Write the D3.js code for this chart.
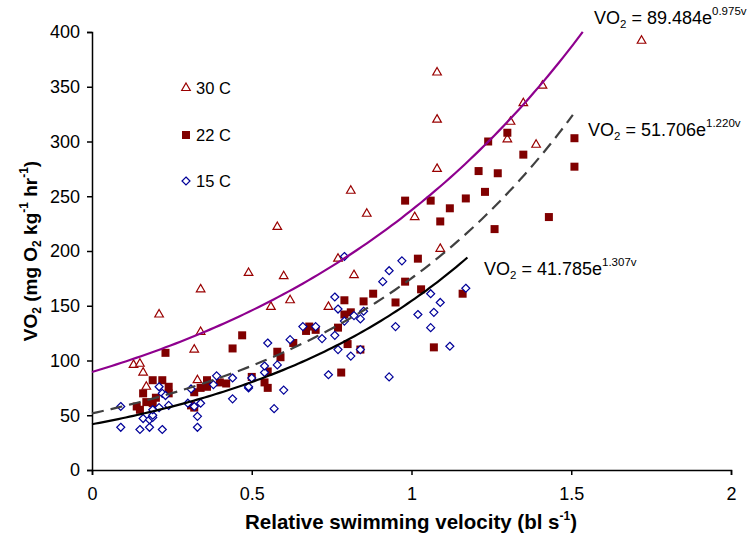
<!DOCTYPE html>
<html>
<head>
<meta charset="utf-8">
<script src="https://cdn.jsdelivr.net/npm/d3@7"></script>
<style>
  body { margin: 0; background: #fff; }
  svg text { font-family: "Liberation Sans", Arial, sans-serif; fill: #000; }
</style>
</head>
<body>
<div id="chart"></div>
<script>
// ---- data: [velocity (bl/s), VO2] ----
const temp30 = [
  [0.13, 96], [0.15, 97], [0.16, 89], [0.17, 76], [0.21, 142], [0.32, 110],
  [0.33, 82], [0.34, 126], [0.34, 165], [0.49, 180], [0.56, 149], [0.58, 222],
  [0.60, 177], [0.62, 155], [0.74, 149], [0.77, 193], [0.81, 255], [0.82, 178],
  [0.86, 234], [1.01, 231], [1.08, 275], [1.08, 320], [1.08, 363], [1.09, 202],
  [1.30, 302], [1.31, 318], [1.35, 335], [1.39, 297], [1.41, 351], [1.72, 392]
];
const temp22 = [
  [0.14, 58], [0.15, 55], [0.16, 70], [0.17, 62], [0.19, 61], [0.19, 82],
  [0.20, 66], [0.22, 82], [0.23, 107], [0.24, 76], [0.24, 70], [0.31, 59],
  [0.32, 57], [0.32, 71], [0.34, 75], [0.36, 82], [0.36, 76], [0.40, 80],
  [0.42, 79], [0.44, 111], [0.47, 123], [0.50, 85], [0.54, 80], [0.55, 90],
  [0.55, 75], [0.58, 108], [0.59, 103], [0.63, 116], [0.67, 127], [0.68, 131],
  [0.70, 128], [0.77, 130], [0.78, 89], [0.79, 142], [0.79, 155], [0.80, 115],
  [0.81, 144], [0.84, 110], [0.85, 154], [0.88, 161], [0.95, 153], [0.98, 172],
  [0.98, 246], [1.02, 193], [1.03, 165], [1.06, 246], [1.07, 112], [1.09, 227],
  [1.12, 239], [1.16, 161], [1.17, 248], [1.21, 273], [1.23, 254], [1.24, 300],
  [1.26, 220], [1.27, 271], [1.30, 308], [1.35, 288], [1.43, 231], [1.51, 303],
  [1.51, 277]
];
const temp15 = [
  [0.09, 58], [0.09, 39], [0.15, 37], [0.16, 47], [0.18, 39], [0.18, 46],
  [0.19, 48], [0.19, 50], [0.19, 55], [0.21, 57], [0.21, 76], [0.22, 37],
  [0.22, 70], [0.23, 68], [0.24, 59], [0.30, 61], [0.31, 74], [0.32, 58],
  [0.33, 49], [0.33, 39], [0.34, 61], [0.38, 78], [0.39, 86], [0.44, 84],
  [0.44, 65], [0.49, 75], [0.49, 76], [0.50, 84], [0.54, 89], [0.54, 95],
  [0.55, 116], [0.57, 56], [0.58, 96], [0.60, 73], [0.62, 119], [0.66, 131],
  [0.70, 131], [0.72, 120], [0.74, 87], [0.76, 123], [0.76, 158], [0.77, 147],
  [0.77, 110], [0.79, 136], [0.79, 195], [0.81, 104], [0.82, 141], [0.84, 138],
  [0.84, 110], [0.85, 145], [0.91, 172], [0.93, 182], [0.93, 85], [0.95, 131],
  [0.97, 191], [1.02, 142], [1.06, 161], [1.06, 130], [1.07, 144], [1.09, 153],
  [1.12, 113], [1.17, 166]
];

// exponential fits  VO2 = a * e^(b v), drawn from 0 to vMax
const fitLabels = ["30 C", "22 C", "15 C"];
const fitA = [89.484, 51.706, 41.785];
const fitB = [0.975, 1.220, 1.307];
const fitMax = [1.536, 1.505, 1.175];

const xTicks = [0, 0.5, 1, 1.5, 2];
const yTicks = [0, 50, 100, 150, 200, 250, 300, 350, 400];

// ---- layout ----
const W = 755, H = 539;
const margin = { top: 32, right: 24, bottom: 69, left: 92 };

const svg = d3.select("#chart").append("svg")
  .attr("width", W)
  .attr("height", H);

const x = d3.scaleLinear().domain([0, 2]).range([margin.left, W - margin.right]);
const y = d3.scaleLinear().domain([0, 400]).range([H - margin.bottom, margin.top]);

// axes
const xAxis = d3.axisBottom(x).tickValues(xTicks).tickSize(5).tickPadding(12)
  .tickFormat(d3.format("~g"));
const yAxis = d3.axisLeft(y).tickValues(yTicks).tickSize(5).tickPadding(7);

const gx = svg.append("g")
  .attr("transform", "translate(0," + y(0) + ")")
  .call(xAxis);
const gy = svg.append("g")
  .attr("transform", "translate(" + x(0) + ",0)")
  .call(yAxis);

[gx, gy].forEach(g => {
  g.select(".domain").attr("stroke", "#000").attr("stroke-width", 1.5);
  g.selectAll(".tick line").attr("stroke", "#000").attr("stroke-width", 1.5);
  g.selectAll(".tick text").attr("font-size", 18)
    .attr("font-family", "Liberation Sans, Arial, sans-serif").attr("fill", "#000");
});

// markers
const triangle = d3.symbol().type(d3.symbolTriangle).size(32);
const diamondPath = "M0,-4L4,0L0,4L-4,0Z";

svg.append("g").selectAll("path")
  .data(temp30)
  .enter().append("path")
  .attr("d", triangle)
  .attr("transform", d => "translate(" + x(d[0]) + "," + y(d[1]) + ")")
  .attr("fill", "#fff")
  .attr("stroke", "#990000")
  .attr("stroke-width", 1.2);

svg.append("g").selectAll("rect")
  .data(temp22)
  .enter().append("rect")
  .attr("x", d => x(d[0]) - 4)
  .attr("y", d => y(d[1]) - 4)
  .attr("width", 8)
  .attr("height", 8)
  .attr("fill", "#800000");

svg.append("g").selectAll("path")
  .data(temp15)
  .enter().append("path")
  .attr("d", diamondPath)
  .attr("transform", d => "translate(" + x(d[0]) + "," + y(d[1]) + ")")
  .attr("fill", "#fff")
  .attr("stroke", "#000099")
  .attr("stroke-width", 1.2);

// trend lines
const fitStyle = [
  { color: "#8e008e", dash: null, width: 2.2 },
  { color: "#404040", dash: "12,7", width: 2.2 },
  { color: "#000", dash: null, width: 2.2 }
];
const line = d3.line().x(d => x(d[0])).y(d => y(d[1]));

fitA.forEach((a, i) => {
  const pts = d3.range(0, 101).map(k => {
    const v = fitMax[i] * k / 100;
    return [v, a * Math.exp(fitB[i] * v)];
  });
  svg.append("path")
    .datum(pts)
    .attr("d", line)
    .attr("fill", "none")
    .attr("stroke", fitStyle[i].color)
    .attr("stroke-width", fitStyle[i].width)
    .attr("stroke-dasharray", fitStyle[i].dash);
});

// equation labels
const eqPos = [[594, 24], [588, 136], [484, 275]];
fitA.forEach((a, i) => {
  const t = svg.append("text")
    .attr("x", eqPos[i][0])
    .attr("y", eqPos[i][1])
    .attr("font-size", 18);
  t.append("tspan").text("VO");
  t.append("tspan").attr("font-size", 11.5).attr("dy", 4).text("2");
  t.append("tspan").attr("dy", -4).text(" = " + a.toFixed(3) + "e");
  t.append("tspan").attr("font-size", 11.5).attr("dy", -9)
    .text(fitB[i].toFixed(3) + "v");
});

// legend
const legY = [88, 135, 181];
const lg = svg.append("g");
lg.append("path").attr("d", triangle)
  .attr("transform", "translate(186," + legY[0] + ")")
  .attr("fill", "#fff").attr("stroke", "#990000").attr("stroke-width", 1.2);
lg.append("rect").attr("x", 182).attr("y", legY[1] - 4).attr("width", 8).attr("height", 8)
  .attr("fill", "#800000");
lg.append("path").attr("d", diamondPath)
  .attr("transform", "translate(186," + legY[2] + ")")
  .attr("fill", "#fff").attr("stroke", "#000099").attr("stroke-width", 1.2);
fitLabels.forEach((s, i) => {
  lg.append("text")
    .attr("x", 196)
    .attr("y", legY[i] + 6)
    .attr("font-size", 16.5)
    .text(s);
});

// axis titles
const xt = svg.append("text")
  .attr("x", 411)
  .attr("y", 529)
  .attr("text-anchor", "middle")
  .attr("font-size", 20.5)
  .attr("font-weight", "bold");
xt.append("tspan").text("Relative swimming velocity (bl s");
xt.append("tspan").attr("font-size", 12).attr("dy", -9).text("-1");
xt.append("tspan").attr("dy", 9).text(")");

const yt = svg.append("text")
  .attr("transform", "translate(37," + ((y(0) + y(400)) / 2) + ") rotate(-90)")
  .attr("text-anchor", "middle")
  .attr("font-size", 19)
  .attr("font-weight", "bold");
yt.append("tspan").text("VO");
yt.append("tspan").attr("font-size", 12).attr("dy", 4).text("2");
yt.append("tspan").attr("dy", -4).text(" (mg O");
yt.append("tspan").attr("font-size", 12).attr("dy", 4).text("2");
yt.append("tspan").attr("dy", -4).text(" kg");
yt.append("tspan").attr("font-size", 12).attr("dy", -9).text("-1");
yt.append("tspan").attr("dy", 9).text(" hr");
yt.append("tspan").attr("font-size", 12).attr("dy", -9).text("-1");
yt.append("tspan").attr("dy", 9).text(")");
</script>
</body>
</html>
